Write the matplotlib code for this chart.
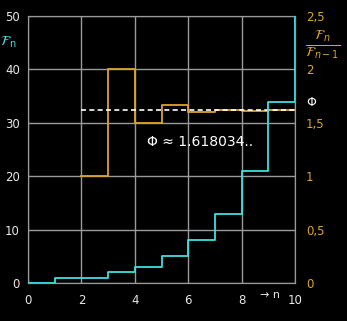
import numpy as np
import matplotlib.pyplot as plt

# Fibonacci numbers F_0..F_10 and ratios F_n/F_(n-1)
n = [0, 1, 2, 3, 4, 5, 6, 7, 8, 9, 10]
fib = [0, 1, 1, 2, 3, 5, 8, 13, 21, 34, 55]
n_ratio = [2, 3, 4, 5, 6, 7, 8, 9, 10]
ratio = [1, 2, 1.5, 5/3, 1.6, 1.625, 21/13, 34/21, 34/21]
phi = 1.618034

cyan = '#3fe0e0'
gold = '#dba52a'
grid_c = '#9a9a9a'

fig = plt.figure(figsize=(3.47, 3.21), dpi=100, facecolor='black')
ax = fig.add_axes([0.081, 0.118, 0.769, 0.832])
ax2 = ax.twinx()

ax.step(n, fib, where='post', color=cyan, lw=1.3, zorder=5)
ax.set_xlim(0, 10)
ax.set_ylim(0, 50)
ax.set_xticks([0, 2, 4, 6, 8, 10])
ax.set_yticks([0, 10, 20, 30, 40, 50])
ax.tick_params(colors='#e8e8e8', labelsize=8.5, length=0, pad=6)
ax.tick_params(axis='x', pad=8)
for s in ax.spines.values():
    s.set_color(grid_c)

ax2.step(n_ratio, ratio, where='post', color=gold, lw=1.3, zorder=3)
ax2.plot([2, 10], [phi, phi], color='white', ls=(0, (3, 2)), lw=1.2, zorder=4)
ax2.set_ylim(0, 2.5)
ax2.set_yticks([0, 0.5, 1, 1.5, 2, 2.5])
ax2.set_yticklabels(['0', '0,5', '1', '1,5', '2', '2,5'])
ax2.tick_params(colors=gold, labelsize=8.5, length=0, pad=8)
ax2.xaxis.set_visible(True)
ax2.tick_params(axis='x', labelbottom=False, labeltop=False, length=0)
ax2.grid(True, color=grid_c, lw=1)
ax2.set_axisbelow(True)
for s in ax2.spines.values():
    s.set_color(grid_c)

# cyan line on top, gold/grid below
ax.set_zorder(ax2.get_zorder() + 1)
ax.patch.set_visible(False)
ax2.patch.set_facecolor('black')

ax2.text(6.45, 1.32, 'Φ ≈ 1.618034..', color='white', fontsize=10,
         ha='center', va='center')
ax2.text(1.06, phi + 0.07, 'Φ', color='white', fontsize=9,
         transform=ax2.get_yaxis_transform(), ha='center', va='center')
ax2.text(1.105, 2.23, r'$\frac{\mathcal{F}_n}{\mathcal{F}_{n-1}}$', color=gold,
         fontsize=14, transform=ax2.get_yaxis_transform(), ha='center', va='center')
ax.text(-0.045, 45, r'$\mathcal{F}_\mathrm{n}$', color=cyan, fontsize=10,
        transform=ax.get_yaxis_transform(), ha='right', va='center')
ax.text(0.906, -0.045, '→ n', color='#e8e8e8', fontsize=8,
        transform=ax.transAxes, ha='center', va='center')

fig.savefig('out.png', dpi=100, facecolor='black')
